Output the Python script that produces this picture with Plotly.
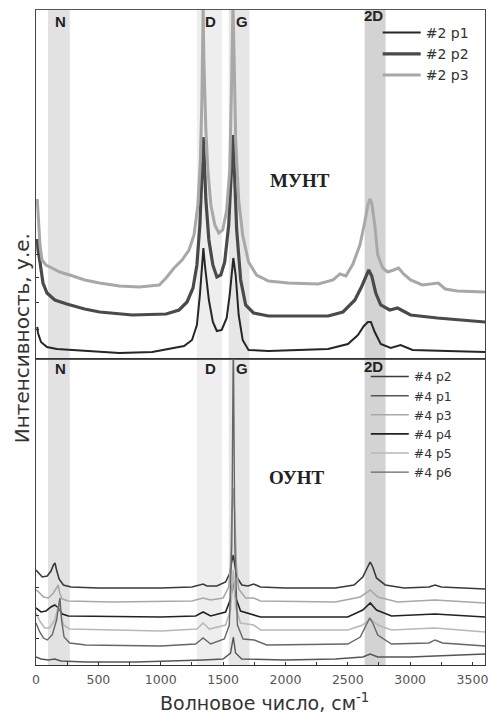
import plotly.graph_objects as go

# ---------------- data ----------------
# Top panel (МУНТ), wavenumber cm-1 / intensity a.u.
top_p1_x = [10, 16, 40, 88, 167, 406, 669, 932, 1067, 1187, 1251, 1290, 1314, 1330, 1342, 1354, 1386, 1418, 1450,
            1489, 1529, 1553, 1569, 1582, 1601, 1625, 1657, 1704, 1864, 2103, 2342, 2501, 2581, 2629, 2661, 2685,
            2716, 2764, 2844, 2923, 3019, 3300, 3600]
top_p1_y = [32, 26, 17, 12, 10, 8, 6, 7, 10, 13, 19, 34, 64, 94, 111, 94, 59, 37, 28,
            29, 41, 64, 89, 101, 84, 44, 19, 9, 8, 9, 10, 15, 24, 33, 37, 37,
            27, 15, 11, 14, 9, 8, 7]

top_p2_x = [10, 16, 32, 56, 88, 151, 247, 390, 510, 773, 1043, 1147, 1211, 1259, 1290, 1314, 1330, 1340, 1346,
            1362, 1386, 1418, 1450, 1482, 1513, 1545, 1565, 1579, 1589, 1609, 1641, 1681, 1744, 1864, 2103, 2342,
            2461, 2557, 2613, 2652, 2668, 2692, 2724, 2764, 2836, 2899, 2947, 3003, 3218, 3600]
top_p2_y = [120, 109, 97, 76, 66, 59, 55, 50, 47, 44, 45, 49, 57, 71, 94, 134, 184, 222, 209,
            159, 119, 94, 82, 84, 97, 134, 184, 224, 194, 129, 79, 54, 46, 43, 43, 43,
            47, 59, 73, 85, 89, 83, 66, 54, 49, 51, 48, 44, 41, 37]

top_p3_x = [10, 16, 32, 48, 80, 112, 191, 271, 390, 510, 669, 828, 988, 1043, 1107, 1171, 1227, 1267, 1298,
            1318, 1330, 1340, 1346, 1362, 1378, 1402, 1434, 1466, 1497, 1529, 1553, 1569, 1579, 1589, 1601,
            1625, 1657, 1704, 1768, 1864, 2023, 2262, 2382, 2437, 2485, 2541, 2597, 2636, 2661, 2677, 2692,
            2716, 2740, 2780, 2820, 2867, 2907, 2947, 3003, 3098, 3194, 3226, 3282, 3377, 3600]
top_p3_y = [160, 149, 114, 99, 94, 92, 87, 84, 79, 76, 73, 72, 74, 81, 91, 99, 109, 124, 154,
            199, 259, 352, 299, 229, 189, 154, 134, 126, 129, 149, 189, 279, 356, 299, 219,
            159, 124, 97, 84, 78, 76, 75, 79, 85, 83, 95, 114, 137, 154, 160, 156,
            134, 104, 91, 87, 89, 91, 85, 79, 74, 75, 76, 70, 68, 67]

# Bottom panel (ОУНТ)
bot_p2_x = [0, 20, 50, 90, 120, 140, 152, 165, 185, 220, 280, 500, 1000, 1250, 1310, 1340, 1370, 1450, 1520,
            1555, 1570, 1582, 1594, 1610, 1650, 1700, 1745, 1800, 2000, 2400, 2550, 2620, 2655, 2680, 2700,
            2730, 2800, 2950, 3150, 3200, 3250, 3600]
bot_p2_y = [95, 92, 88, 89, 94, 100, 102, 95, 86, 80, 78, 77, 77, 78, 80, 81, 79, 79, 83,
            92, 104, 110, 100, 88, 80, 79, 81, 78, 77, 77, 80, 88, 97, 103, 98,
            87, 80, 77, 78, 80, 78, 76]

bot_p1_x = [0, 40, 100, 150, 200, 400, 800, 1200, 1340, 1500, 1560, 1582, 1600, 1650, 2000, 2400, 2620, 2680,
            2740, 3000, 3600]
bot_p1_y = [8, 6, 5, 6, 4, 3, 3, 4, 5, 6, 12, 28, 12, 6, 5, 6, 8, 11,
            8, 8, 11]

bot_p3_x = [0, 30, 60, 100, 140, 165, 178, 190, 210, 260, 600, 1250, 1340, 1400, 1500, 1545, 1560, 1570, 1582,
            1594, 1606, 1625, 1680, 1745, 1800, 2400, 2600, 2680, 2740, 2900, 3200, 3600]
bot_p3_y = [75, 72, 68, 67, 72, 78, 80, 72, 66, 64, 63, 64, 67, 65, 67, 78, 100, 150, 177,
            150, 100, 76, 67, 67, 64, 63, 68, 75, 68, 63, 65, 62]

bot_p4_x = [0, 40, 80, 120, 150, 180, 210, 260, 1000, 1280, 1340, 1400, 1520, 1560, 1582, 1600, 1640, 1750,
            1800, 2500, 2620, 2680, 2730, 2850, 3200, 3600]
bot_p4_y = [57, 53, 54, 58, 60, 57, 51, 49, 48, 49, 53, 49, 53, 66, 85, 68, 54, 50,
            48, 48, 55, 62, 55, 49, 51, 48]

bot_p5_x = [0, 30, 70, 110, 150, 175, 188, 200, 220, 270, 1000, 1290, 1340, 1390, 1520, 1560, 1582, 1600, 1640,
            1745, 1800, 2500, 2620, 2680, 2740, 2850, 3200, 3600]
bot_p5_y = [52, 44, 37, 37, 45, 56, 62, 50, 40, 36, 34, 36, 42, 36, 40, 55, 95, 58, 42,
            40, 35, 35, 40, 46, 40, 35, 37, 33]

bot_p6_x = [0, 30, 60, 90, 130, 165, 185, 192, 205, 225, 270, 400, 1000, 1280, 1340, 1400, 1510, 1550, 1570,
            1582, 1594, 1615, 1660, 1750, 1850, 2500, 2600, 2650, 2675, 2700, 2740, 2850, 3150, 3200, 3260, 3600]
bot_p6_y = [42, 33, 27, 25, 30, 45, 62, 67, 45, 28, 22, 20, 19, 21, 27, 21, 26, 40, 120,
            330, 120, 40, 26, 25, 20, 21, 28, 40, 47, 42, 30, 21, 22, 25, 22, 19]

# shaded regions (N, D, G, 2D), cm-1
bands = [(96, 271), (1290, 1490), (1545, 1712), (2635, 2803)]
band_colors = ["#e2e2e2", "#eeeeee", "#e6e6e6", "#d3d3d3"]

top_y_ticks = [29, 56, 81, 104]
bot_y_ticks = [26, 49, 77]

# ---------------- figure ----------------
fig = go.Figure()

top_series = [
    ("#2 p1", top_p1_x, top_p1_y, "#262626", 2.0),
    ("#2 p2", top_p2_x, top_p2_y, "#4a4a4a", 3.2),
    ("#2 p3", top_p3_x, top_p3_y, "#a8a8a8", 3.0),
]
for name, xs, ys, col, w in top_series:
    fig.add_trace(go.Scatter(x=xs, y=ys, mode="lines", name=name, xaxis="x", yaxis="y",
                             line=dict(color=col, width=w), legend="legend"))

bot_series = [
    ("#4 p2", bot_p2_x, bot_p2_y, "#3a3a3a", 1.6),
    ("#4 p1", bot_p1_x, bot_p1_y, "#555555", 1.4),
    ("#4 p3", bot_p3_x, bot_p3_y, "#a8a8a8", 1.6),
    ("#4 p4", bot_p4_x, bot_p4_y, "#222222", 1.6),
    ("#4 p5", bot_p5_x, bot_p5_y, "#b8b8b8", 1.6),
    ("#4 p6", bot_p6_x, bot_p6_y, "#666666", 1.4),
]
for name, xs, ys, col, w in bot_series:
    fig.add_trace(go.Scatter(x=xs, y=ys, mode="lines", name=name, xaxis="x2", yaxis="y2",
                             line=dict(color=col, width=w), legend="legend2"))

shapes = []
for (x0, x1), c in zip(bands, band_colors):
    for xr, yr in (("x", "y domain"), ("x2", "y2 domain")):
        shapes.append(dict(type="rect", xref=xr, yref=yr, x0=x0, x1=x1, y0=0, y1=1,
                           fillcolor=c, line=dict(width=0), layer="below"))

lab_font = dict(family="Liberation Sans", size=15, color="#222", weight="bold")
annotations = []
for txt, xv, ytop, ybot in (("N", 199, 0.9817, 0.4534), ("D", 1402, 0.9817, 0.4534),
                            ("G", 1649, 0.9817, 0.4534), ("2D", 2708, 0.991, 0.455)):
    annotations.append(dict(text=txt, x=xv, y=ytop, xref="x", yref="paper", showarrow=False,
                            xanchor="center", yanchor="middle", font=lab_font))
    annotations.append(dict(text=txt, x=xv, y=ybot, xref="x2", yref="paper", showarrow=False,
                            xanchor="center", yanchor="middle", font=lab_font))

annotations += [
    dict(text="<b>МУНТ</b>", x=0.588, y=0.759, xref="paper", yref="paper", showarrow=False,
         font=dict(family="Liberation Serif", size=19, color="#222")),
    dict(text="<b>ОУНТ</b>", x=0.580, y=0.267, xref="paper", yref="paper", showarrow=False,
         font=dict(family="Liberation Serif", size=19, color="#222")),
    dict(text="Интенсивность, у.е.", x=-0.031, y=0.499, xref="paper", yref="paper", showarrow=False,
         textangle=-90, xanchor="center", yanchor="middle",
         font=dict(family="DejaVu Sans", size=20, color="#333")),
    dict(text="Волновое число, см<sup>-1</sup>", x=0.509, y=-0.0565, xref="paper", yref="paper",
         showarrow=False, xanchor="center", yanchor="middle",
         font=dict(family="DejaVu Sans", size=19, color="#333")),
]

axis_common = dict(range=[0, 3600], showgrid=False, zeroline=False, showline=True, mirror=True)

fig.update_layout(
    width=491, height=713,
    margin=dict(l=36, r=3, t=10, b=48),
    paper_bgcolor="white", plot_bgcolor="white",
    showlegend=True,
    xaxis=dict(**axis_common, domain=[0, 1], anchor="y", showticklabels=False, ticks="",
               linecolor="#555", linewidth=1.2),
    yaxis=dict(domain=[0.4672, 1], anchor="x", range=[0, 349], showgrid=False, zeroline=False,
               showline=True, mirror=True, linecolor="#444", linewidth=1.2, showticklabels=False,
               ticks="inside", ticklen=3, tickcolor="#333", tickmode="array", tickvals=top_y_ticks),
    xaxis2=dict(**axis_common, domain=[0, 1], anchor="y2", linecolor="#333", linewidth=1.2,
                ticks="inside", ticklen=3, tickcolor="#333", tick0=0, dtick=500,
                minor=dict(ticks="inside", ticklen=3, tickcolor="#333", dtick=250, tick0=0),
                tickfont=dict(family="DejaVu Sans", size=12.5, color="#555"), ticklabelstandoff=3,
                ticklabeloverflow="allow"),
    yaxis2=dict(domain=[0, 0.4672], anchor="x2", range=[0, 306], showgrid=False, zeroline=False,
                showline=True, mirror=True, linecolor="#444", linewidth=1.2, showticklabels=False,
                ticks="inside", ticklen=3, tickcolor="#333", tickmode="array", tickvals=bot_y_ticks),
    legend=dict(x=0.761, y=0.9893, xanchor="left", yanchor="top", bgcolor="rgba(0,0,0,0)",
                font=dict(family="DejaVu Sans", size=14, color="#333"), tracegroupgap=0, itemwidth=38),
    legend2=dict(x=0.7345, y=0.4626, xanchor="left", yanchor="top", bgcolor="rgba(0,0,0,0)",
                 font=dict(family="DejaVu Sans", size=12.4, color="#333"), tracegroupgap=0, itemwidth=38),
    shapes=shapes,
    annotations=annotations,
)

fig.write_html(
    "out.html",
    config={"displayModeBar": False},
    post_script="document.body.style.margin='0';document.body.style.padding='0';"
                "document.documentElement.style.overflow='hidden';",
)
